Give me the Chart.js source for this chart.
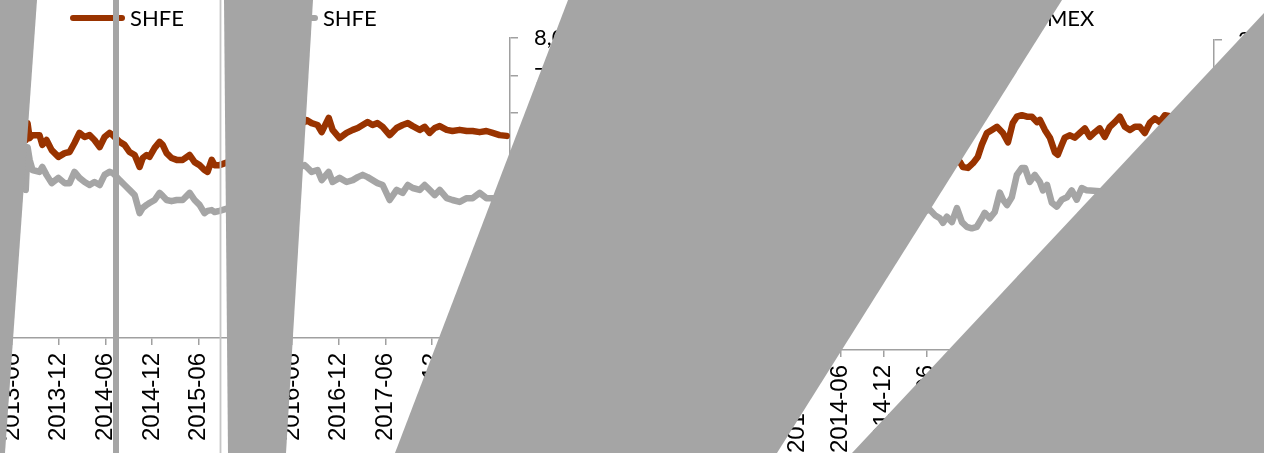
<!DOCTYPE html>
<html>
<head>
<meta charset="utf-8">
<script src="https://cdn.jsdelivr.net/npm/chart.js@4.4.1/dist/chart.umd.min.js"></script>
<style>
  html, body { margin: 0; padding: 0; width: 1264px; height: 453px; overflow: hidden; background: #fff; }
  .panel { position: absolute; top: 0; }
  #leftPanel { left: 0; width: 640px; height: 453px; }
  #rightPanel { left: 640px; width: 700px; height: 465px; }
  .legend { position: absolute; top: 6px; display: flex; font-family: Lato, sans-serif; font-size: 22px; line-height: 24px; color: #000; white-space: nowrap; }
  .legend .item { display: flex; align-items: center; margin-right: 79px; }
  .legend .mark { width: 55px; height: 6px; border-radius: 3px; margin-right: 5px; }
  #leftLegend { left: 70px; }
  #rightLegend { left: 762px; }
  #cover { position: absolute; left: 0; top: 0; }
</style>
</head>
<body>
<div class="panel" id="leftPanel"><canvas id="leftChart"></canvas></div>
<div class="panel" id="rightPanel"><canvas id="rightChart"></canvas></div>
<div class="legend" id="leftLegend"></div>
<div class="legend" id="rightLegend"></div>
<svg id="cover" width="1264" height="453">
  <g fill="#a5a5a5">
    <polygon points="0,0 37,0 5,453 0,453"/>
    <polygon points="113,0 119,0 119,453 113,453"/>
    <polygon points="224,0 313,0 286,453 228,453"/>
    <polygon points="568,0 1062,0 777,453 395,453"/>
    <polygon points="1264,13 1264,453 852,453"/>
  </g>
  <rect x="219.6" y="0" width="1.8" height="453" fill="#c6c6c6"/>
</svg>

<script>
// x axis runs from 2013-06 for 64 months, labels every 6 months
const startYear = 2013, startMonth = 6, monthSpan = 64;

// left panel (same dates for both series)
const leftDates = [
  '2013-07-24','2013-08-01','2013-08-09','2013-08-20','2013-09-17','2013-09-28','2013-10-14','2013-11-04','2013-11-30','2013-12-24',
  '2014-01-13','2014-02-02','2014-02-21','2014-03-11','2014-03-30','2014-04-19','2014-05-09','2014-05-28','2014-06-17','2014-06-29',
  '2014-07-11','2014-07-26','2014-08-15','2014-09-04','2014-09-24','2014-10-13','2014-10-25','2014-11-10','2014-11-21','2014-12-11',
  '2014-12-30','2015-01-12','2015-01-27','2015-02-16','2015-03-06','2015-03-29','2015-04-26','2015-05-15','2015-06-04','2015-06-23',
  '2015-07-05','2015-07-21','2015-08-02','2015-08-21','2015-11-08','2016-02-15','2016-05-21','2016-07-19','2016-07-27','2016-08-16',
  '2016-09-09','2016-09-25','2016-10-22','2016-11-07','2016-12-04','2017-01-01','2017-01-25','2017-02-14','2017-03-03','2017-03-22',
  '2017-04-11','2017-04-30','2017-05-20','2017-06-17','2017-07-14','2017-08-07','2017-08-27','2017-09-16','2017-10-13','2017-11-02',
  '2017-11-21','2017-12-11','2017-12-30','2018-01-27','2018-02-19','2018-03-17','2018-04-14','2018-05-07','2018-06-04','2018-06-30',
  '2018-07-24','2018-08-21','2018-09-18'
];
const leftShfeA = [
  5280,5730,5330,5410,5410,5150,5280,5010,4830,4930,
  4960,5200,5470,5360,5410,5280,5090,5360,5470,5410,
  5330,5230,5150,4960,4880,4560,4800,4880,4830,5070,
  5230,5150,4930,4800,4750,4750,4880,4690,4610,4480,
  4430,4750,4610,4610,4800,5150,5600,5760,5810,5730,
  5680,5490,5870,5550,5330,5470,5550,5600,5680,5760,
  5680,5730,5630,5410,5600,5680,5730,5650,5550,5630,
  5470,5600,5650,5550,5520,5550,5520,5520,5490,5520,
  5470,5410,5390
];
const leftShfeB = [
  3950,5090,4750,4480,4430,4560,4350,4130,4270,4130,
  4130,4430,4270,4160,4080,4160,4080,4350,4430,4400,
  4320,4210,4080,3950,3810,3330,3470,3550,3600,3680,
  3870,3790,3680,3650,3680,3680,3870,3680,3550,3330,
  3390,3410,3360,3390,3550,3950,4430,4610,4560,4430,
  4480,4210,4430,4160,4270,4160,4210,4290,4350,4290,
  4210,4130,4080,3680,3950,3870,4080,4000,3950,4080,
  3950,3810,3950,3730,3680,3630,3730,3730,3870,3730,
  3730,3680,3650
];
const leftTicks = { max: 8000, step: 1000 };

// right panel
const rightShfeDates = [
  '2013-08-08','2014-03-06','2014-11-16','2015-05-04','2015-10-20','2015-11-03','2015-11-24','2015-12-15','2016-01-05','2016-01-22',
  '2016-02-13','2016-03-04','2016-03-25','2016-04-20','2016-05-11','2016-06-01','2016-06-18','2016-07-09','2016-07-30','2016-08-21',
  '2016-09-12','2016-09-24','2016-10-15','2016-11-06','2016-11-27','2016-12-09','2016-12-26','2017-01-08','2017-01-30','2017-02-20',
  '2017-03-11','2017-04-02','2017-04-23','2017-05-14','2017-06-04','2017-06-25','2017-07-16','2017-08-07','2017-08-28','2017-09-19',
  '2017-10-10','2017-10-31','2017-11-21','2017-12-12','2018-01-03','2018-01-24','2018-02-15','2018-03-06','2018-05-08','2018-06-20',
  '2018-08-02','2018-09-22'
];
const rightShfe = [
  1290,1225,1160,1195,1215,1180,1175,1205,1245,1325,
  1400,1420,1440,1400,1340,1465,1505,1515,1505,1505,
  1470,1485,1420,1370,1275,1260,1325,1370,1385,1370,
  1400,1430,1375,1405,1430,1375,1440,1470,1505,1440,
  1420,1440,1440,1400,1465,1495,1470,1515,1495,1485,
  1470,1470
];
const rightComexDates = [
  '2013-08-08','2014-03-06','2014-11-16','2015-05-04','2015-06-15','2015-07-06','2015-07-27','2015-08-10','2015-08-26','2015-09-17',
  '2015-10-08','2015-10-29','2015-11-19','2015-12-10','2016-01-01','2016-01-22','2016-02-04','2016-02-25','2016-03-16','2016-04-07',
  '2016-04-20','2016-05-07','2016-05-27','2016-06-18','2016-07-09','2016-07-22','2016-08-12','2016-09-03','2016-09-24','2016-10-07',
  '2016-10-24','2016-11-14','2016-12-05','2016-12-26','2017-01-17','2017-02-07','2017-02-28','2017-03-19','2017-04-10','2017-07-16',
  '2018-01-03','2018-06-20','2018-09-22'
];
const rightComex = [
  970,935,870,890,905,870,850,820,860,825,
  915,825,795,785,795,850,885,850,890,1015,
  970,935,985,1130,1175,1175,1085,1130,1085,1030,
  1065,950,925,970,985,1030,970,1045,1030,1020,
  1030,1045,1030
];
const rightTicks = { max: 2000, step: 250 };

const orange = '#993300';
const grey = '#a5a5a5';
const axisGrey = '#a0a0a0';

function monthPos(d) {
  const p = d.split('-').map(Number);
  return (p[0] - startYear) * 12 + (p[1] - startMonth) + (p[2] - 1) / 30;
}
function monthLabel(v) {
  if (v % 6 !== 0) return null;
  const t = startMonth - 1 + v;
  const y = startYear + Math.floor(t / 12);
  const m = (t % 12) + 1;
  return y + '-' + (m < 10 ? '0' + m : m);
}
function points(dates, vals) {
  return dates.map((d, i) => ({ x: monthPos(d), y: vals[i] }));
}
function lineSet(label, color, data) {
  return {
    label: label, data: data, borderColor: color, backgroundColor: color,
    borderWidth: 6.5, pointRadius: 0, tension: 0, fill: false,
    borderJoinStyle: 'round', borderCapStyle: 'round'
  };
}

function makePanel(canvasId, legendId, datasets, ticks, yWidth, padLeft, padTop) {
  const chart = new Chart(document.getElementById(canvasId), {
    type: 'line',
    data: { datasets: datasets },
    options: {
      responsive: true,
      maintainAspectRatio: false,
      animation: false,
      parsing: false,
      layout: { padding: { left: padLeft, top: padTop, right: 0, bottom: 0 } },
      plugins: { legend: { display: false }, tooltip: { enabled: false } },
      scales: {
        x: {
          type: 'linear', min: 0, max: monthSpan,
          afterFit: s => { s.height = 115; },
          border: { color: axisGrey, width: 1.5 },
          grid: { drawOnChartArea: false, drawTicks: true, tickLength: 7, color: axisGrey, lineWidth: 1.5 },
          ticks: {
            stepSize: 6, maxTicksLimit: 20, autoSkip: false,
            minRotation: 90, maxRotation: 90, padding: 8,
            color: '#000', font: { family: 'Liberation Sans', size: 24 },
            callback: v => monthLabel(v)
          }
        },
        y: {
          position: 'right', min: 0, max: ticks.max,
          afterFit: s => { s.width = yWidth; },
          border: { color: axisGrey, width: 1.5 },
          grid: { drawOnChartArea: false, drawTicks: true, tickLength: 8, color: axisGrey, lineWidth: 1.5 },
          ticks: {
            stepSize: ticks.step, padding: 16, color: '#000',
            font: { family: 'Lato', size: 22 },
            callback: v => v.toLocaleString('en-US')
          }
        }
      }
    }
  });

  // legend drawn as html from the chart's datasets
  const box = document.getElementById(legendId);
  chart.data.datasets.forEach(ds => {
    const item = document.createElement('div');
    item.className = 'item';
    item.innerHTML = '<span class="mark" style="background:' + ds.borderColor + '"></span><span>' + ds.label + '</span>';
    box.appendChild(item);
  });
  return chart;
}

makePanel('leftChart', 'leftLegend', [
  lineSet('SHFE', orange, points(leftDates, leftShfeA)),
  lineSet('SHFE', grey, points(leftDates, leftShfeB))
], leftTicks, 130, 12, 38);

makePanel('rightChart', 'rightLegend', [
  lineSet('SHFE', orange, points(rightShfeDates, rightShfe)),
  lineSet('COMEX', grey, points(rightComexDates, rightComex))
], rightTicks, 126, 114, 40);
</script>
</body>
</html>
